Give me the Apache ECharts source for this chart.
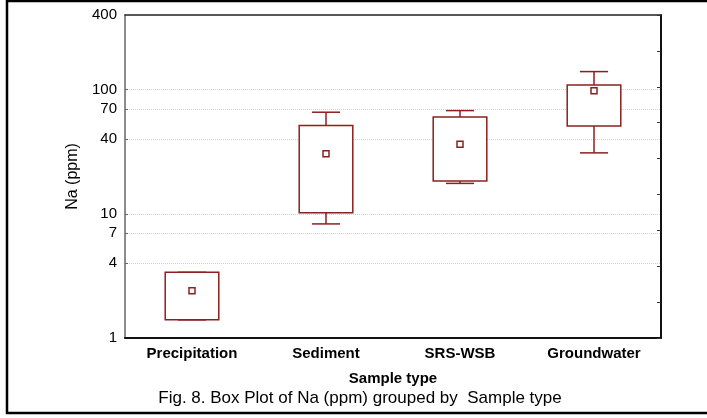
<!DOCTYPE html>
<html>
<head>
<meta charset="utf-8">
<script src="https://cdn.jsdelivr.net/npm/echarts@6/dist/echarts.min.js"></script>
<style>
  html, body { margin: 0; padding: 0; background: #fff; }
  #chart { width: 707px; height: 418px; }
</style>
</head>
<body>
<div id="chart"></div>
<script>
// Sample groups along the x axis
const categories = ['Precipitation', 'Sediment', 'SRS-WSB', 'Groundwater'];

// Box plot statistics for Na (ppm), one entry per sample type
const whiskerLow  = [1.40, 8.3, 17.6, 31];
const boxLow      = [1.40, 10.2, 18.4, 51];
const boxHigh     = [3.38, 51.4, 60.4, 109];
const whiskerHigh = [3.38, 65.9, 67.9, 140];
const means       = [2.40, 30.5, 36.4, 98];

// Log-axis tick values and labels
const yTickValues = [4, 7, 10, 40, 70, 100];
const yLabelValues = [1, 4, 7, 10, 40, 70, 100, 400];

const boxColor = '#8c1f1f';
const font = 'Arial, "Liberation Sans", sans-serif';

const seriesData = categories.map((c, i) => [i, whiskerLow[i], boxLow[i], boxHigh[i], whiskerHigh[i], means[i]]);

function renderBox(params, api) {
  const i = api.value(0);
  const band = api.size([1, 0])[0];
  const boxHalf = band * 0.2;
  const capHalf = band * 0.105;
  const x = api.coord([i, 1])[0];
  const yWL = api.coord([i, api.value(1)])[1];
  const yBL = api.coord([i, api.value(2)])[1];
  const yBH = api.coord([i, api.value(3)])[1];
  const yWH = api.coord([i, api.value(4)])[1];
  const yM = api.coord([i, api.value(5)])[1];
  const stroke = { stroke: boxColor, lineWidth: 1.5, fill: null };
  return {
    type: 'group',
    children: [
      { type: 'line', shape: { x1: x, y1: yWH, x2: x, y2: yBH }, style: stroke },
      { type: 'line', shape: { x1: x, y1: yBL, x2: x, y2: yWL }, style: stroke },
      { type: 'line', shape: { x1: x - capHalf, y1: yWH, x2: x + capHalf, y2: yWH }, style: stroke },
      { type: 'line', shape: { x1: x - capHalf, y1: yWL, x2: x + capHalf, y2: yWL }, style: stroke },
      { type: 'rect', shape: { x: x - boxHalf, y: yBH, width: boxHalf * 2, height: yBL - yBH },
        style: { stroke: boxColor, lineWidth: 1.5, fill: '#fff' } },
      { type: 'rect', shape: { x: x - 3, y: yM - 3, width: 6, height: 6 },
        style: { stroke: boxColor, lineWidth: 1.5, fill: '#fff' } }
    ]
  };
}

const chart = echarts.init(document.getElementById('chart'), null, { renderer: 'canvas' });
chart.setOption({
  animation: false,
  backgroundColor: '#fff',
  grid: { left: 125, top: 15, right: 46, bottom: 80 },
  xAxis: [
    {
      type: 'category',
      data: categories,
      position: 'bottom',
      name: 'Sample type',
      nameLocation: 'middle',
      nameGap: 33,
      nameTextStyle: { fontFamily: font, fontSize: 15, fontWeight: 'bold', color: '#000' },
      axisLine: { lineStyle: { color: '#111', width: 2 } },
      axisTick: { inside: true, alignWithLabel: true, length: 4, lineStyle: { color: '#333' } },
      axisLabel: { fontFamily: font, fontSize: 15, fontWeight: 'bold', color: '#000', margin: 8 },
      splitLine: { show: false }
    },
    {
      type: 'category',
      data: categories,
      position: 'top',
      axisLine: { lineStyle: { color: '#222', width: 1.5 } },
      axisTick: { inside: true, alignWithLabel: true, length: 4, lineStyle: { color: '#555' } },
      axisLabel: { show: false },
      splitLine: { show: false }
    }
  ],
  yAxis: [
    {
      type: 'log',
      logBase: 10,
      min: 1,
      max: 400,
      position: 'left',
      name: 'Na (ppm)',
      nameLocation: 'middle',
      nameGap: 43,
      nameTextStyle: { fontFamily: font, fontSize: 16, color: '#000' },
      axisLine: { show: true, lineStyle: { color: '#666', width: 1.5 } },
      axisTick: { show: true, inside: true, length: 3, customValues: yTickValues, lineStyle: { color: '#666' } },
      axisLabel: { customValues: yLabelValues, fontFamily: font, fontSize: 15, color: '#000', margin: 8 },
      splitLine: { show: true, lineStyle: { color: '#d2d2d2', type: [1, 1], width: 1 } }
    },
    {
      type: 'value',
      min: 0,
      max: 9,
      interval: 1,
      position: 'right',
      axisLine: { show: true, lineStyle: { color: '#111', width: 2 } },
      axisTick: { show: true, inside: true, length: 4, lineStyle: { color: '#333' } },
      axisLabel: { show: false },
      splitLine: { show: false }
    }
  ],
  series: [
    {
      type: 'custom',
      xAxisIndex: 0,
      yAxisIndex: 0,
      renderItem: renderBox,
      encode: { x: 0, y: [1, 2, 3, 4, 5] },
      data: seriesData,
      z: 5
    }
  ],
  graphic: [
    {
      type: 'rect',
      shape: { x: 7, y: 1, width: 710, height: 412 },
      style: { stroke: '#000', lineWidth: 2.5, fill: null },
      silent: true
    },
    {
      type: 'text',
      x: 360,
      y: 398,
      style: {
        text: 'Fig. 8. Box Plot of Na (ppm) grouped by  Sample type',
        fontFamily: font,
        fontSize: 17,
        fill: '#000',
        align: 'center',
        verticalAlign: 'middle'
      }
    }
  ]
});
</script>
</body>
</html>
